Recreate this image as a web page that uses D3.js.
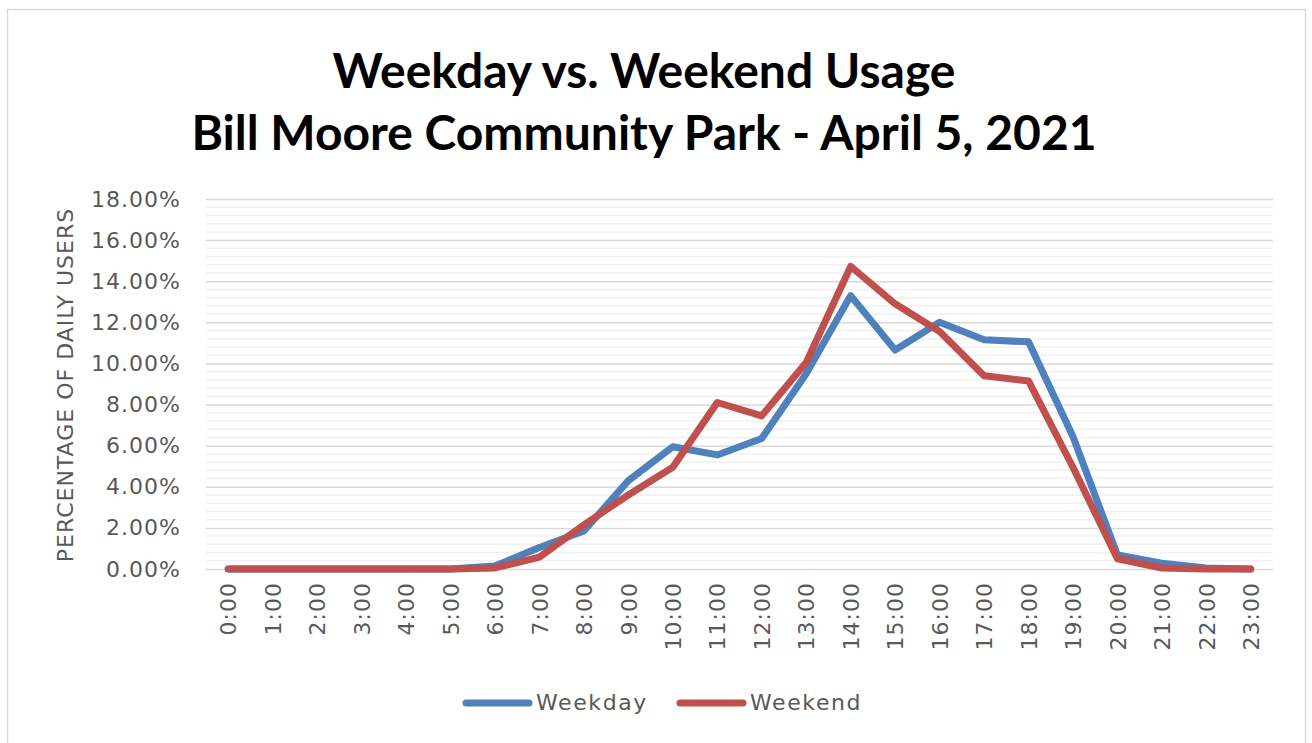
<!DOCTYPE html>
<html lang="en">
<head>
<meta charset="UTF-8">
<title>Weekday vs. Weekend Usage</title>
<script src="https://d3js.org/d3.v7.min.js"></script>
<style>
    body { margin: 0; background: #fff; }
</style>
</head>
<body>
<svg id="chart"></svg>
<script>
    const hours = ["0:00","1:00","2:00","3:00","4:00","5:00","6:00","7:00","8:00","9:00","10:00","11:00",
                   "12:00","13:00","14:00","15:00","16:00","17:00","18:00","19:00","20:00","21:00","22:00","23:00"];
    // percent of daily users
    const weekday = [0,0,0,0,0,0,0.15,1.05,1.85,4.3,5.95,5.55,6.35,9.5,13.3,10.65,12.0,11.15,11.05,6.45,0.68,0.28,0.05,0];
    const weekend = [0,0,0,0,0,0,0.05,0.58,2.15,3.6,4.95,8.1,7.45,10.05,14.72,12.9,11.55,9.4,9.15,4.95,0.5,0.05,0,0];
    const yTicks = [0,2,4,6,8,10,12,14,16,18];
    const seriesNames = ["Weekday","Weekend"];
    const colors = ["#4F81BD","#C0504D"];

    const W = 1312, H = 743;
    const plot = {left: 206, right: 1273, top: 199, bottom: 569};
    const labelFont = "'DejaVu Sans', sans-serif";

    const svg = d3.select("#chart").attr("width", W).attr("height", H);

    svg.append("rect")
        .attr("x", 7.5).attr("y", 9.5)
        .attr("width", 1298).attr("height", 740)
        .attr("fill", "none").attr("stroke", "#d9d9d9").attr("stroke-width", 1.5);

    // title
    const titleLines = ["Weekday vs. Weekend Usage", "Bill Moore Community Park - April 5, 2021"];
    titleLines.forEach((t, i) => {
        svg.append("text").attr("x", 644).attr("y", 88 + i * 62).attr("text-anchor", "middle")
            .attr("font-family", "Lato, sans-serif")
            .attr("font-size", 48).attr("font-weight", "bold").attr("fill", "#000")
            .text(t);
    });

    const x = d3.scalePoint().domain(hours).range([plot.left, plot.right]).padding(0.5);
    const y = d3.scaleLinear().domain([0, 18]).range([plot.bottom, plot.top]);

    // minor gridlines
    const minor = d3.range(0, 18.01, 0.4).filter(v => Math.abs(v / 2 - Math.round(v / 2)) > 1e-6);
    svg.append("g").selectAll("line").data(minor).join("line")
        .attr("x1", plot.left).attr("x2", plot.right)
        .attr("y1", d => y(d)).attr("y2", d => y(d))
        .attr("stroke", "#f0f0f0").attr("stroke-width", 1.5);

    // y axis with major gridlines
    const yAxis = svg.append("g")
        .attr("transform", `translate(${plot.left},0)`)
        .call(d3.axisLeft(y).tickValues(yTicks).tickSize(-(plot.right - plot.left))
            .tickPadding(25).tickFormat(d => d.toFixed(2) + "%"));
    yAxis.select(".domain").remove();
    yAxis.selectAll(".tick line").attr("stroke", "#d9d9d9").attr("stroke-width", 1.5);
    yAxis.selectAll(".tick text").attr("font-size", 22).attr("fill", "#595959")
        .attr("font-family", labelFont).attr("letter-spacing", 1);

    // x axis
    const xAxis = svg.append("g")
        .attr("transform", `translate(0,${plot.bottom})`)
        .call(d3.axisBottom(x).tickSize(0).tickPadding(0));
    xAxis.select(".domain").remove();
    xAxis.selectAll(".tick text")
        .attr("font-size", 22).attr("fill", "#595959").attr("font-family", labelFont)
        .attr("letter-spacing", 1)
        .attr("text-anchor", "end").attr("dy", "0.35em")
        .attr("transform", "translate(0,13) rotate(-90)")
        .attr("x", 0).attr("y", 0);

    // y axis title
    svg.append("text")
        .attr("transform", "translate(73,385) rotate(-90)")
        .attr("text-anchor", "middle").attr("font-size", 22).attr("fill", "#595959")
        .attr("font-family", labelFont).attr("letter-spacing", 1)
        .text("PERCENTAGE OF DAILY USERS");

    // lines
    const line = d3.line().x((d, i) => x(hours[i])).y(d => y(d));
    [weekday, weekend].forEach((s, k) => {
        svg.append("path").datum(s)
            .attr("d", line)
            .attr("fill", "none")
            .attr("stroke", colors[k])
            .attr("stroke-width", 7)
            .attr("stroke-linejoin", "round")
            .attr("stroke-linecap", "round");
    });

    // legend
    const legendX = [466, 680];
    seriesNames.forEach((name, k) => {
        svg.append("line")
            .attr("x1", legendX[k]).attr("x2", legendX[k] + 63)
            .attr("y1", 703).attr("y2", 703)
            .attr("stroke", colors[k]).attr("stroke-width", 7).attr("stroke-linecap", "round");
        svg.append("text")
            .attr("x", legendX[k] + 70).attr("y", 710)
            .attr("font-size", 22).attr("fill", "#595959")
            .attr("font-family", labelFont).attr("letter-spacing", 1.6)
            .text(name);
    });
</script>
</body>
</html>
